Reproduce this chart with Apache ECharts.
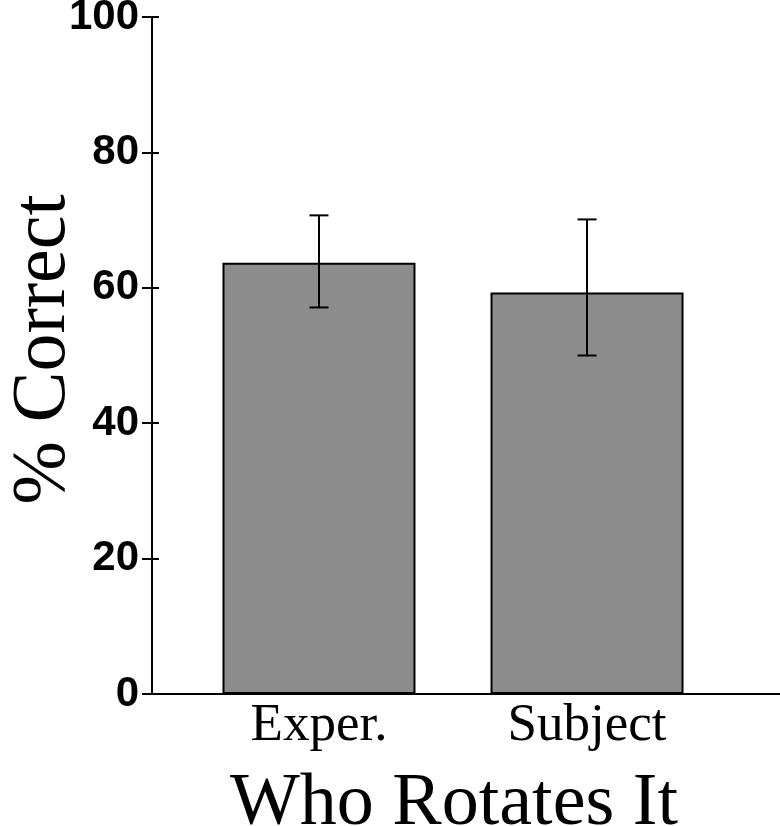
<!DOCTYPE html>
<html>
<head>
<meta charset="utf-8">
<script src="https://cdn.jsdelivr.net/npm/echarts@6/dist/echarts.min.js"></script>
<style>
  html, body { margin: 0; padding: 0; background: #fff; }
  #chart { width: 780px; height: 826px; }
</style>
</head>
<body>
<div id="chart"></div>
<script>
// data
const categories = ['Exper.', 'Subject']
const positions = [1, 2]
const percentCorrect = [63.7, 59.3]
const errLow = [57.1, 50.0]
const errHigh = [70.7, 70.1]
const yTicks = [0, 20, 40, 60, 80, 100]

const chart = echarts.init(document.getElementById('chart'))

const serif = '"Liberation Serif", "Times New Roman", serif'
const sans = '"Liberation Sans", Arial, sans-serif'

chart.setOption({
  animation: false,
  grid: { left: 152, right: 0, top: 17, bottom: 132, outerBoundsMode: 'none' },
  xAxis: {
    type: 'value',
    min: 0.377,
    max: 2.72,
    name: 'Who Rotates It',
    nameLocation: 'middle',
    nameGap: 74,
    nameMoveOverlap: false,
    nameTextStyle: { fontFamily: serif, fontSize: 74, color: '#000', padding: [0, 24, 0, 0] },
    axisLine: { onZero: false, lineStyle: { color: '#000', width: 2 } },
    axisTick: { show: false },
    splitLine: { show: false },
    axisLabel: {
      customValues: positions,
      formatter: (v) => categories[positions.indexOf(v)] || '',
      fontFamily: serif,
      fontSize: 53,
      color: '#000',
      margin: 6
    }
  },
  yAxis: [
    {
      type: 'value',
      min: 0,
      max: 100,
      interval: 20,
      name: '% Correct',
      nameLocation: 'middle',
      nameGap: 70,
      nameMoveOverlap: false,
      nameTextStyle: { fontFamily: serif, fontSize: 76, color: '#000', padding: [0, 0, 0, 12] },
      axisLine: { show: true, lineStyle: { color: '#000', width: 2 } },
      axisTick: { show: true, length: 10, lineStyle: { color: '#000', width: 2 } },
      splitLine: { show: false },
      axisLabel: {
        customValues: yTicks,
        fontFamily: sans,
        fontWeight: 'bold',
        fontSize: 42,
        color: '#000',
        margin: 13
      }
    },
    {
      // inner half of the crossing ticks
      type: 'value',
      position: 'left',
      min: 0,
      max: 100,
      interval: 20,
      axisLine: { show: false },
      axisTick: { show: true, inside: true, length: 7, lineStyle: { color: '#000', width: 2 } },
      axisLabel: { show: false },
      splitLine: { show: false }
    }
  ],
  series: [
    {
      type: 'bar',
      barWidth: 193,
      data: positions.map((p, i) => [p, percentCorrect[i]]),
      itemStyle: { color: '#8c8c8c', borderColor: '#000', borderWidth: 2 }
    },
    {
      type: 'custom',
      data: positions.map((p, i) => [p, errLow[i], errHigh[i]]),
      z: 10,
      renderItem: function (params, api) {
        const lo = api.coord([api.value(0), api.value(1)])
        const hi = api.coord([api.value(0), api.value(2)])
        const half = 9.5
        const style = { stroke: '#000', lineWidth: 2 }
        return {
          type: 'group',
          children: [
            { type: 'line', shape: { x1: hi[0], y1: hi[1], x2: lo[0], y2: lo[1] }, style },
            { type: 'line', shape: { x1: hi[0] - half, y1: hi[1], x2: hi[0] + half, y2: hi[1] }, style },
            { type: 'line', shape: { x1: lo[0] - half, y1: lo[1], x2: lo[0] + half, y2: lo[1] }, style }
          ]
        }
      }
    }
  ]
})
</script>
</body>
</html>
